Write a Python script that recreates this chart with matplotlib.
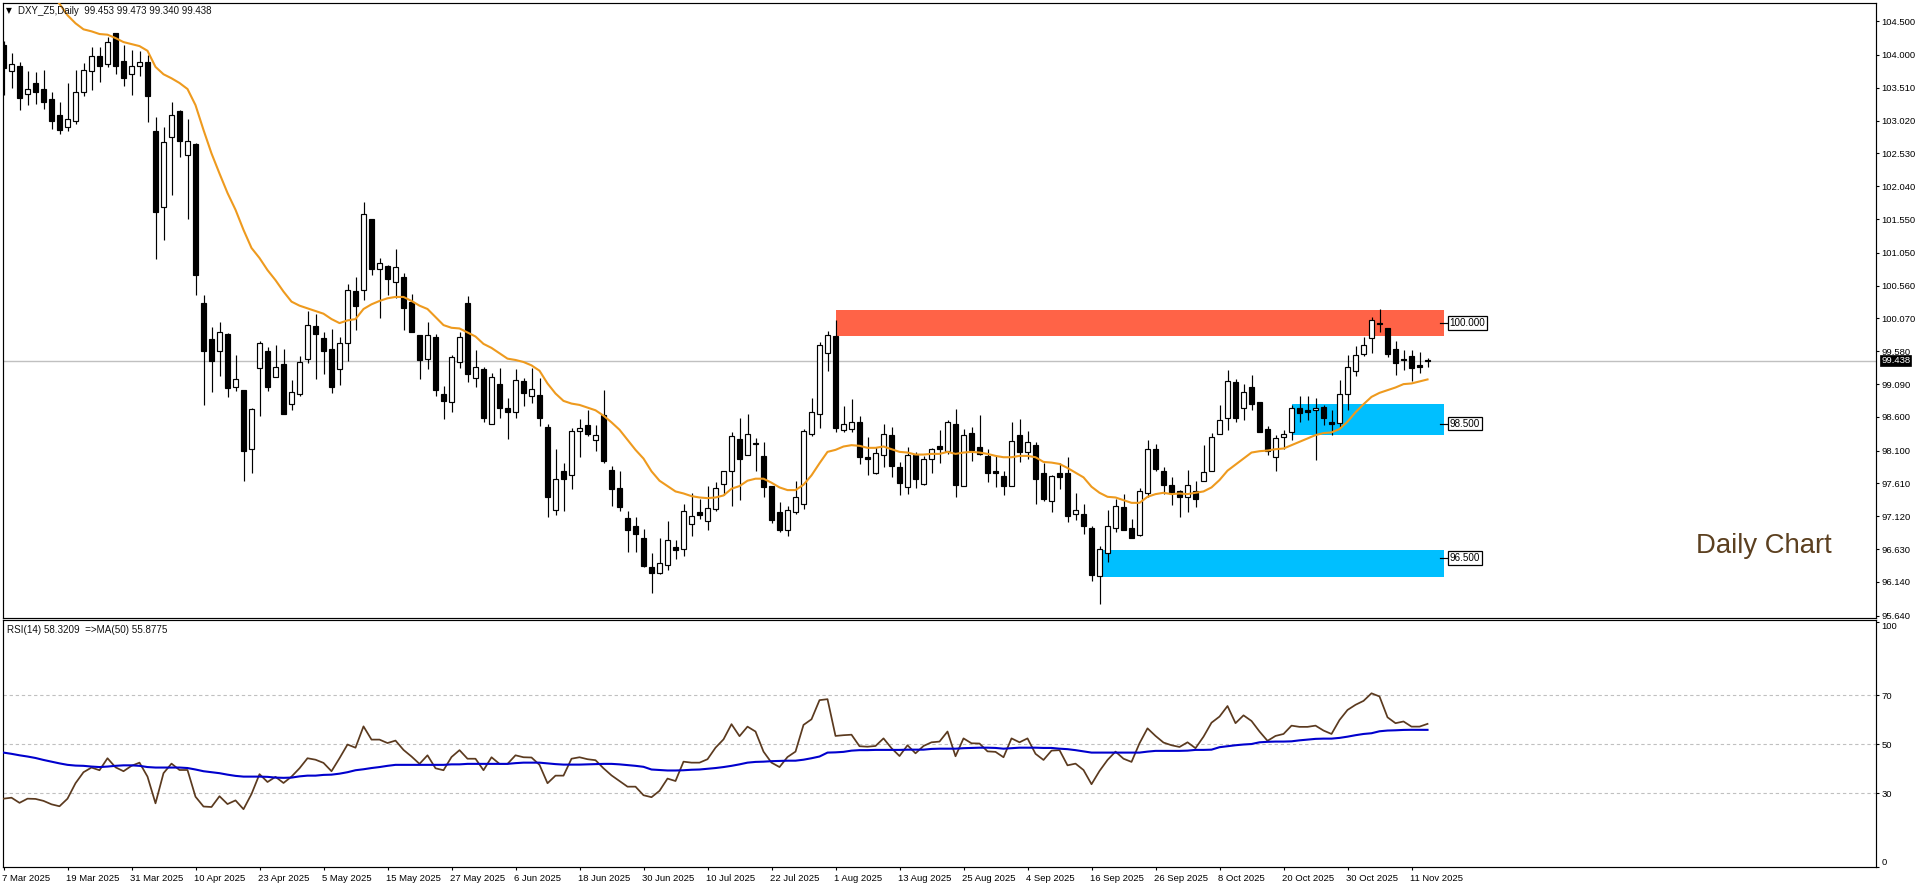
import matplotlib
matplotlib.use("Agg")
import matplotlib.pyplot as plt
from matplotlib.transforms import ScaledTranslation

opens = [104.15,103.76,103.83,103.42,103.58,103.49,103.34,103.10,102.92,103.02,
 103.44,103.76,103.98,103.87,104.32,103.91,103.71,103.84,103.89,102.86,
 101.73,102.78,103.16,102.50,102.67,100.30,99.76,99.58,99.84,99.05,
 99.00,98.12,99.33,99.58,99.20,99.39,98.80,98.95,99.46,99.96,
 99.78,99.61,99.31,99.71,100.48,100.50,101.55,100.80,100.85,100.62,
 100.68,100.31,99.82,99.47,99.79,98.95,98.83,99.42,100.30,99.18,
 99.31,98.50,99.09,98.73,98.67,99.14,98.92,98.93,98.45,97.22,
 97.79,97.73,98.39,98.48,98.25,98.63,97.81,97.54,97.09,96.98,
 96.79,96.37,96.28,96.39,96.66,96.63,97.00,97.18,97.05,97.23,
 97.60,97.79,98.27,98.03,98.21,98.02,97.57,97.18,96.91,97.19,
 97.30,98.35,98.64,99.55,99.81,98.40,98.42,98.52,98.00,97.77,
 98.03,98.33,97.85,97.55,98.03,97.60,97.97,98.17,98.10,98.50,
 97.57,98.36,98.15,98.02,97.79,97.72,97.57,98.33,98.08,98.18,
 97.77,97.34,97.76,97.77,97.15,97.16,96.95,96.23,96.57,96.95,
 97.26,96.94,96.84,97.47,98.12,97.79,97.58,97.50,97.40,97.50,
 97.65,97.80,98.34,98.58,99.12,98.74,99.04,98.82,98.42,98.01,
 98.30,98.37,98.73,98.70,98.70,98.75,98.53,98.51,98.95,99.28,
 99.54,99.78,100.00,99.93,99.62,99.47,99.51,99.37,99.453]
highs = [104.20,104.03,103.90,103.76,103.75,103.77,103.45,103.30,103.58,103.77,
 103.88,104.12,104.12,104.27,104.32,104.15,104.07,104.06,104.00,103.08,
 102.93,103.29,103.18,103.04,102.68,100.42,99.94,100.01,99.85,99.52,
 99.00,98.74,99.73,99.64,99.67,99.61,99.15,99.51,100.18,100.14,
 99.86,99.91,99.79,100.59,100.69,101.81,101.55,100.97,100.87,101.10,
 100.74,100.43,99.82,100.01,99.83,99.06,99.52,99.86,100.40,99.60,
 99.35,99.25,99.33,98.88,99.32,99.18,99.33,99.18,98.50,98.12,
 97.92,98.43,98.57,98.71,98.48,99.00,97.87,97.79,97.20,97.11,
 96.93,96.57,96.79,97.05,96.76,97.31,97.47,97.38,97.57,97.63,
 97.80,98.37,98.59,98.64,98.29,98.22,97.57,97.33,97.27,97.64,
 98.42,98.89,99.72,99.88,100.05,98.77,98.87,98.62,98.30,98.15,
 98.49,98.45,97.93,98.15,98.08,98.02,98.14,98.40,98.56,98.72,
 98.42,98.45,98.63,98.13,98.02,97.79,98.53,98.57,98.39,98.22,
 97.91,97.73,97.91,98.00,97.46,97.31,96.98,96.67,97.22,97.38,
 97.45,97.08,97.54,98.26,98.19,97.85,97.71,97.51,97.81,97.64,
 98.18,98.36,98.78,99.30,99.17,99.09,99.23,98.82,98.46,98.33,
 98.40,98.78,98.91,98.92,98.88,98.78,98.70,99.15,99.53,99.66,
 99.80,100.09,100.21,99.93,99.73,99.60,99.60,99.57,99.473]
lows = [103.40,103.50,103.18,103.25,103.27,103.19,102.90,102.82,102.87,102.97,
 103.38,103.48,103.59,103.82,103.71,103.54,103.40,103.69,103.00,100.96,
 101.24,101.91,102.48,101.55,100.42,98.78,98.98,99.21,98.90,98.99,
 97.65,97.77,98.62,98.99,99.20,98.65,98.70,98.91,99.41,99.17,
 99.24,98.96,99.08,99.43,99.90,100.35,100.71,100.08,100.42,100.37,
 99.90,99.86,99.17,99.32,98.91,98.57,98.67,99.33,99.12,99.04,
 98.53,98.50,98.58,98.27,98.59,98.76,98.81,98.47,97.11,97.14,
 97.20,97.53,98.01,98.31,98.10,97.92,97.28,97.20,96.58,96.59,
 96.37,95.98,96.26,96.32,96.48,96.53,96.82,97.08,96.92,97.20,
 97.44,97.28,97.36,98.03,97.79,97.40,97.02,96.89,96.83,97.16,
 97.23,98.32,98.43,99.29,98.38,98.37,98.37,97.90,97.74,97.75,
 97.85,97.71,97.43,97.45,97.54,97.59,97.77,97.92,98.05,97.41,
 97.57,97.95,98.03,97.63,97.56,97.44,97.57,97.93,97.97,97.31,
 97.34,97.18,97.53,97.04,97.07,96.85,96.16,95.81,96.44,96.88,
 96.91,96.79,96.83,97.41,97.79,97.45,97.29,97.11,97.19,97.26,
 97.65,97.80,98.34,98.41,98.53,98.56,98.71,98.37,98.03,97.79,
 98.13,98.26,98.53,98.55,97.96,98.48,98.33,98.45,98.70,99.21,
 99.51,99.56,99.87,99.50,99.23,99.30,99.13,99.25,99.340]
closes = [103.80,103.87,103.35,103.49,103.44,103.30,103.02,102.88,103.05,103.44,
 103.78,103.98,103.84,104.19,103.84,103.66,103.83,103.90,103.38,101.65,
 102.70,103.10,102.71,102.71,100.72,99.58,99.43,99.87,99.03,99.16,
 98.10,98.72,99.70,99.05,99.34,98.65,98.98,99.42,99.97,99.84,
 99.58,99.05,99.71,100.49,100.25,101.62,100.80,100.89,100.65,100.83,
 100.22,99.86,99.45,99.82,99.00,98.84,99.49,99.80,99.24,99.34,
 98.59,99.19,98.74,98.68,99.15,98.96,99.01,98.58,97.40,97.67,
 97.68,98.39,98.43,98.34,98.33,97.94,97.53,97.26,96.91,96.86,
 96.38,96.28,96.42,96.76,96.62,97.20,97.13,97.14,97.24,97.54,
 97.79,98.31,97.97,98.34,98.19,97.55,97.07,96.91,97.21,97.40,
 98.39,98.67,99.68,99.82,98.43,98.49,98.52,98.01,97.98,98.07,
 98.34,97.87,97.61,98.04,97.68,97.98,98.12,98.13,98.52,97.59,
 98.33,98.11,98.05,97.76,97.76,97.57,98.24,98.08,98.22,97.67,
 97.38,97.72,97.71,97.13,97.21,96.97,96.25,96.63,96.98,97.28,
 96.92,96.80,97.49,98.12,97.83,97.59,97.47,97.40,97.58,97.38,
 97.78,98.30,98.55,99.13,98.59,98.98,98.80,98.38,98.10,98.28,
 98.35,98.74,98.66,98.68,98.73,98.58,98.50,98.95,99.34,99.53,
 99.68,100.04,99.99,99.54,99.40,99.45,99.33,99.34,99.438]
ma_first_bar = 6
ma_values = [104.92,104.76,104.59,104.47,
 104.38,104.35,104.31,104.30,104.25,104.19,104.16,104.13,104.06,103.82,
 103.71,103.65,103.58,103.49,103.25,102.88,102.53,102.23,101.94,101.69,
 101.39,101.12,100.97,100.79,100.64,100.47,100.32,100.26,100.22,100.18,
 100.14,100.06,100.00,100.04,100.06,100.21,100.28,100.33,100.37,100.39,
 100.39,100.33,100.26,100.21,100.09,99.97,99.93,99.92,99.86,99.80,
 99.69,99.63,99.55,99.47,99.45,99.42,99.37,99.29,99.10,98.95,
 98.84,98.80,98.78,98.74,98.70,98.62,98.52,98.41,98.26,98.11,
 97.98,97.79,97.65,97.57,97.49,97.46,97.42,97.40,97.39,97.40,
 97.43,97.53,97.57,97.65,97.68,97.68,97.62,97.55,97.51,97.51,
 97.59,97.73,97.91,98.08,98.11,98.16,98.18,98.17,98.14,98.14,
 98.16,98.12,98.08,98.07,98.04,98.04,98.05,98.05,98.08,98.05,
 98.07,98.08,98.07,98.05,98.02,98.00,98.00,98.02,98.02,98.00,
 97.93,97.92,97.90,97.84,97.77,97.70,97.56,97.47,97.41,97.40,
 97.36,97.32,97.32,97.41,97.45,97.47,97.45,97.46,97.45,97.47,
 97.49,97.55,97.66,97.80,97.89,97.98,98.07,98.09,98.10,98.12,
 98.13,98.18,98.23,98.28,98.33,98.36,98.37,98.42,98.53,98.67,
 98.79,98.90,98.96,99.00,99.04,99.09,99.10,99.13,99.16]
rsi_values = [27.8,28.2,26.1,27.8,27.7,26.9,25.5,24.7,27.8,34.1,
 38.6,40.5,39.4,44.3,40.6,39.0,41.2,42.5,36.8,25.9,
 38.2,42.1,39.5,39.5,28.6,24.6,24.4,28.8,25.6,27.1,
 23.5,29.7,37.8,34.6,36.7,34.2,36.8,40.2,44.3,43.7,
 42.4,39.0,44.3,49.9,48.6,57.3,51.9,51.9,50.5,51.5,
 47.7,45.0,42.0,45.5,40.2,39.4,44.8,47.6,44.1,44.1,
 39.4,44.7,42.0,42.0,45.5,44.7,44.6,41.6,34.1,37.2,
 37.2,44.1,44.7,43.9,43.5,40.2,37.3,35.0,32.7,32.7,
 29.2,28.4,31.0,36.0,35.0,42.9,42.5,42.5,43.9,48.6,
 52.0,58.2,53.3,57.2,55.2,47.0,42.5,40.7,44.8,47.0,
 57.9,60.2,68.0,68.4,53.4,53.7,53.9,49.2,49.0,49.3,
 52.4,48.4,45.2,49.6,46.3,49.3,50.8,51.1,55.2,45.1,
 52.4,50.4,50.3,47.1,46.9,44.7,52.4,50.8,52.4,46.1,
 43.6,47.4,47.6,41.4,42.1,39.5,33.7,39.1,43.6,47.0,
 44.1,42.8,50.4,56.5,53.4,50.7,49.6,48.9,50.8,48.4,
 53.1,58.8,61.3,65.6,58.6,61.8,59.5,55.2,51.4,53.4,
 54.2,57.6,57.1,57.1,57.6,55.6,54.2,59.9,64.0,66.1,
 67.7,70.8,69.5,61.0,58.6,59.3,57.2,57.2,58.32]
rsi_ma_values = [46.6,46.1,45.5,45.0,44.4,43.6,42.9,42.2,41.6,41.3,
 41.2,40.9,40.7,40.9,41.2,41.4,41.4,41.2,40.7,40.5,
 40.5,40.5,40.5,40.3,39.7,39.0,38.6,38.2,37.6,37.1,
 36.8,36.8,36.8,36.7,36.4,36.3,36.4,36.9,37.2,37.2,
 37.5,37.6,38.0,38.6,39.4,39.8,40.3,40.7,41.2,41.6,
 41.6,41.6,41.6,41.6,41.6,41.6,41.8,41.8,42.0,42.0,
 42.0,42.0,42.0,42.0,42.3,42.5,42.5,42.5,42.2,41.9,
 41.7,41.7,41.7,41.8,41.9,42.0,42.0,41.8,41.5,41.2,
 40.8,39.7,39.5,39.3,39.3,39.4,39.6,39.7,40.0,40.3,
 40.7,41.2,41.8,42.5,42.8,42.9,43.1,43.2,43.3,43.3,
 43.7,44.3,45.0,46.6,46.7,46.9,47.4,47.6,47.6,47.7,
 47.7,47.7,47.7,47.8,47.8,47.8,48.1,48.2,48.2,48.2,
 48.4,48.5,48.6,48.6,48.5,48.2,48.4,48.6,48.6,48.6,
 48.5,48.5,48.2,48.0,47.6,47.1,46.6,46.6,46.6,46.6,
 46.6,46.6,46.6,47.0,47.3,47.3,47.3,47.3,47.4,47.7,
 47.7,47.8,48.8,49.2,49.6,49.9,50.1,50.8,51.0,51.1,
 51.1,51.2,51.6,51.9,52.2,52.3,52.3,52.6,53.1,53.7,
 54.2,54.5,55.3,55.6,55.7,55.85,55.9,55.9,55.88]

date_bars = list(range(0, 177, 8))
date_labels = ["7 Mar 2025","19 Mar 2025","31 Mar 2025","10 Apr 2025","23 Apr 2025","5 May 2025",
 "15 May 2025","27 May 2025","6 Jun 2025","18 Jun 2025","30 Jun 2025","10 Jul 2025","22 Jul 2025",
 "1 Aug 2025","13 Aug 2025","25 Aug 2025","4 Sep 2025","16 Sep 2025","26 Sep 2025","8 Oct 2025",
 "20 Oct 2025","30 Oct 2025","11 Nov 2025"]
price_ticks = [104.5,104.0,103.51,103.02,102.53,102.04,101.55,101.05,100.56,100.07,
 99.58,99.09,98.6,98.1,97.61,97.12,96.63,96.14,95.64]
rsi_ticks = [100,70,50,30,0]
last_price = 99.438
zones = [(104,180,99.81,100.20,"#FF6347"),(161,180,98.33,98.79,"#00BFFF"),(137,180,96.22,96.61,"#00BFFF")]
zone_labels = [(100.0,"100.000"),(98.5,"98.500"),(96.5,"96.500")]

FONT = "Liberation Sans"
FS = 6.8
FS_AXIS = 6.8
W, H = 1916, 888
plt.rcParams["font.family"] = [FONT, "DejaVu Sans"]
fig = plt.figure(figsize=(W/100, H/100), dpi=100, facecolor="white")

def box(l, t, r, b):
    return [l/W, 1-b/H, (r-l)/W, (b-t)/H]

ax = fig.add_axes(box(2.5, 2.7, 1876, 618))
rx = fig.add_axes(box(2.5, 620.5, 1876, 867), sharex=ax)

xmin, xmax = -0.125, 234.06
ax.set_xlim(xmin, xmax)
ax.set_ylim(95.603, 104.777)
rx.set_ylim(-0.08, 100.5)

# zones and current price line
for x0, x1, lo, hi, col in zones:
    ax.fill_between([x0, x1], lo, hi, color=col, lw=0, zorder=1)
ax.axhline(last_price, color="#c0c0c0", lw=1, zorder=1.5)

# candles
bars = list(range(len(opens)))
ax.vlines(bars, lows, highs, color="black", lw=0.85, zorder=2)
bottoms = [min(o, c) for o, c in zip(opens, closes)]
heights = [abs(c-o) for o, c in zip(opens, closes)]
faces = ["white" if c >= o else "black" for o, c in zip(opens, closes)]
ax.bar(bars, heights, bottom=bottoms, width=0.56, color=faces, edgecolor="black", lw=0.85, zorder=3)

# moving average
ma_bars = list(range(ma_first_bar, ma_first_bar+len(ma_values)))
ax.plot(ma_bars, ma_values, color="#EE9A1E", lw=1.5, zorder=4, solid_joinstyle="round")

# zone price labels
for lvl, txt in zone_labels:
    ax.plot([179.6, 180.45], [lvl, lvl], color="black", lw=0.85, zorder=5)
    ax.text(180.75, lvl, txt, fontsize=FS+0.3, va="center", ha="left", color="black", zorder=6,
            bbox=dict(fc="white", ec="black", lw=0.9, boxstyle="square,pad=0.18"))

ax.text(1763.5/W, 1-546/H, "Daily Chart", transform=fig.transFigure, fontsize=19.8,
        color="#5C4020", ha="center", va="center")

# header labels
fig.text(9.4/W, 1-10.8/H, "\u25BC", fontsize=5.5, ha="center", va="center", family="DejaVu Sans", color="black")
fig.text(18.4/W, 1-10.8/H, "DXY_Z5,Daily  99.453 99.473 99.340 99.438", fontsize=FS+0.2, ha="left", va="center", color="#111111")
fig.text(7/W, 1-629.7/H, "RSI(14) 58.3209  =>MA(50) 55.8775", fontsize=FS+0.3, ha="left", va="center", color="#111111")

# axis styling
for a in (ax, rx):
    a.set_facecolor("white")
    for s in a.spines.values():
        s.set_linewidth(0.85)
        s.set_color("black")
    a.yaxis.tick_right()
    a.tick_params(axis="y", length=2.5, width=0.8, pad=1.5, labelsize=FS_AXIS, colors="black")

ax.set_yticks(price_ticks)
ax.set_yticklabels([f"{v:.3f}" for v in price_ticks])
ax.tick_params(axis="x", bottom=False, labelbottom=False)

# last price tag
ax.annotate(f"{last_price:.3f}", xy=(1, last_price), xycoords=("axes fraction", "data"),
            xytext=(5, 0), textcoords="offset pixels", fontsize=FS_AXIS, color="white",
            va="center", ha="left", annotation_clip=False, zorder=10,
            bbox=dict(fc="black", ec="black", lw=0.5, boxstyle="square,pad=0.12"))

# RSI
for lvl in (70, 50, 30):
    rx.axhline(lvl, color="#c0c0c0", lw=0.8, ls=(0, (3, 2.5)), zorder=1)
rx.plot(bars, rsi_values, color="#5B3A1F", lw=1.25, zorder=3)
rx.plot(bars, rsi_ma_values, color="#0000CD", lw=1.5, zorder=4)
rx.set_yticks(rsi_ticks)
rx.set_yticklabels([str(v) for v in rsi_ticks])
for lab, v in zip(rx.get_yticklabels(), rsi_ticks):
    if v == 100:
        lab.set_va("top")
    elif v == 0:
        lab.set_va("bottom")
rx.set_xticks(date_bars)
rx.set_xticklabels(date_labels, ha="left")
rx.tick_params(axis="x", length=2.5, width=0.8, pad=2.5, labelsize=FS, colors="black")
shift = ScaledTranslation(-1.5/100, 0, fig.dpi_scale_trans)
for lab in rx.get_xticklabels():
    lab.set_transform(lab.get_transform()+shift)

fig.savefig("out.png", dpi=100, facecolor="white")
